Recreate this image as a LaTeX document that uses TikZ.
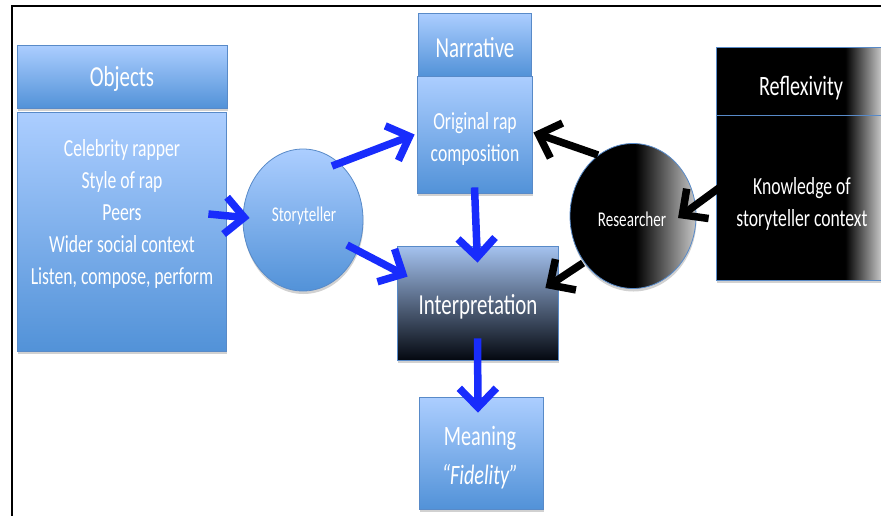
\documentclass[tikz,border=0pt]{standalone}
\usepackage{fontspec}
\setmainfont{Carlito}[FakeStretch=0.72]
\usetikzlibrary{arrows.meta,shadows,calc,shapes.geometric}

\definecolor{boxtop}{RGB}{172,206,255}
\definecolor{boxbot}{RGB}{82,146,216}
\definecolor{boxline}{RGB}{88,138,200}
\definecolor{arrowblue}{RGB}{24,44,252}
\definecolor{intop}{RGB}{165,195,240}
\definecolor{inmid}{RGB}{92,112,142}
\definecolor{inbot}{RGB}{4,8,16}

% black panels that fade out to the right
\pgfdeclarehorizontalshading{reflexshade}{100bp}{color(0bp)=(black); color(63bp)=(black); color(75bp)=(white!88!black); color(100bp)=(white!88!black)}
\pgfdeclarehorizontalshading{researchshade}{100bp}{color(0bp)=(black); color(51bp)=(black); color(75bp)=(white!78!black); color(100bp)=(white!78!black)}

\tikzset{
  softshadow/.style={drop shadow={shadow xshift=0.5pt, shadow yshift=-3pt, opacity=0.3, fill=black!60}},
  bluebox/.style={rectangle, draw=boxline, line width=0.8pt, top color=boxtop, bottom color=boxbot,
    softshadow, text=white, inner sep=0pt, align=center},
  darkbox/.style={rectangle, draw=boxline, line width=0.8pt, shading=reflexshade,
    softshadow, text=white, inner sep=0pt, align=center},
  interpbox/.style={rectangle, draw=boxline, line width=0.8pt, top color=intop, middle color=inmid,
    bottom color=inbot, softshadow, text=white, inner sep=0pt, align=center},
  blueoval/.style={ellipse, draw=boxline, line width=0.8pt, top color=boxtop, bottom color=boxbot,
    softshadow, text=white, inner sep=0pt},
  darkoval/.style={ellipse, draw=boxline, line width=0.8pt, shading=researchshade,
    softshadow, text=white, inner sep=0pt},
  plain/.style={text=white, align=center, inner sep=0pt},
  flow/.style={line width=7.5pt, arrowblue, -{Straight Barb[length=19pt,width=37pt]}},
  backflow/.style={flow, black},
}

\begin{document}
\begin{tikzpicture}[x=1pt,y=-1pt]
\useasboundingbox (0,0) rectangle (881,515);
\clip (0,0) rectangle (881,515);

% outer frame
\draw[line width=2.5pt] (12,6) rectangle (900,540);

% Objects column
\node[bluebox, minimum width=210pt, minimum height=63pt] (objhead) at (122,76.5) {};
\node[plain, font=\fontsize{29}{32}\selectfont] (objtitle) at (122,79) {Objects};
\node[bluebox, minimum width=209pt, minimum height=239pt] (objbody) at (121.5,231.5) {};
\node[plain, font=\fontsize{24.5}{32}\selectfont] (objtext) at (122,214)
  {Celebrity rapper\\Style of rap\\Peers\\Wider social context\\Listen, compose, perform};

% Narrative column
\node[bluebox, minimum width=113pt, minimum height=63pt] (narr) at (475,44.5) {};
\node[plain, font=\fontsize{29}{32}\selectfont] (narrtitle) at (475,48) {Narrative};
\node[bluebox, minimum width=115pt, minimum height=117pt] (orig) at (474.5,134.5) {};
\node[plain, font=\fontsize{24.5}{32}\selectfont] (origtext) at (475,139)
  {Original rap\\composition};

% Storyteller
\node[blueoval, minimum width=120pt, minimum height=142pt] (story) at (303,220) {};
\node[plain, font=\fontsize{21}{25}\selectfont] (storytext) at (304,216) {Storyteller};

% Interpretation
\node[interpbox, minimum width=161pt, minimum height=114pt] (interp) at (477.5,303) {};
\node[plain, font=\fontsize{29}{36}\selectfont] (interptext) at (478,307) {Interpretation};

% Meaning
\node[bluebox, minimum width=124pt, minimum height=112pt] (meaning) at (481,453) {};
\node[plain, font=\fontsize{28}{39}\selectfont] (meaningtext) at (480,458)
  {Meaning\\\textit{“Fidelity”}};

% Researcher
\node[darkoval, minimum width=126pt, minimum height=145pt] (res) at (633,216) {};
\node[plain, font=\fontsize{21}{25}\selectfont] (restext) at (632,219) {Researcher};

% Reflexivity column
\node[darkbox, minimum width=170pt, minimum height=68pt] (refhead) at (801,81) {};
\node[plain, font=\fontsize{28}{32}\selectfont] (reftext) at (801,88) {Reflexivity};
\node[darkbox, minimum width=170pt, minimum height=165pt] (refbody) at (801,197.5) {};
\node[plain, font=\fontsize{24.5}{32}\selectfont] (refbodytext) at (802,204)
  {Knowledge of\\storyteller context};

% connectors
\draw[flow] ($(objbody.east)+(-18,-17.5)$) -- ($(story.west)+(7,-2)$);
\draw[flow] ($(story.center)+(29,-54)$) -- ($(orig.west)+(-2,0)$);
\draw[flow] ($(story.center)+(44,25)$) -- ($(interp.north west)+(11,31)$);
\draw[flow] ($(orig.south)+(0,-6)$) -- ($(interp.north)+(0,17)$);
\draw[flow] ($(interp.south)+(0,-22)$) -- ($(meaning.north)+(-3,16)$);
\draw[backflow] ($(res.center)+(-35,-61)$) -- ($(orig.east)+(1,-2)$);
\draw[backflow] ($(res.center)+(-50,47)$) -- ($(interp.east)+(-13,-15)$);
\draw[backflow] ($(refbody.west)+(4,-10)$) -- ($(res.center)+(45,2)$);
\end{tikzpicture}
\end{document}
